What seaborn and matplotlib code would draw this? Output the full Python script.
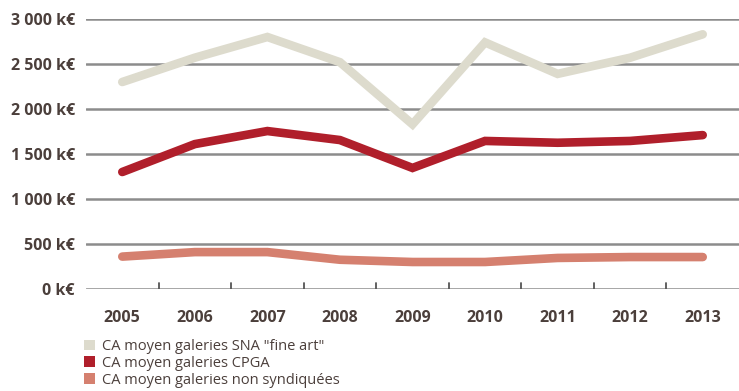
import matplotlib
matplotlib.use("Agg")
import matplotlib.pyplot as plt
from matplotlib.patches import Patch
import seaborn as sns
import pandas as pd

# ───────────── data ─────────────
years = ["2005", "2006", "2007", "2008", "2009", "2010", "2011", "2012", "2013"]
sna_fine_art = [2300, 2570, 2800, 2520, 1830, 2740, 2390, 2570, 2830]
cpga = [1300, 1610, 1755, 1655, 1345, 1645, 1625, 1645, 1710]
non_syndiquees = [360, 410, 410, 325, 300, 300, 345, 355, 355]

series_names = [
    'CA moyen galeries SNA "fine art"',
    "CA moyen galeries CPGA",
    "CA moyen galeries non syndiquées",
]
colors = ["#dddbcd", "#b01f2b", "#d5806f"]
y_ticks = [0, 500, 1000, 1500, 2000, 2500, 3000]

df = pd.DataFrame({
    "year": years * 3,
    "value": sna_fine_art + cpga + non_syndiquees,
    "series": [series_names[0]] * 9 + [series_names[1]] * 9 + [series_names[2]] * 9,
})

sns.set_style("white")
plt.rcParams["font.family"] = ["Open Sans", "DejaVu Sans"]
text_col = "#4b3f3b"

fig = plt.figure(figsize=(7.39, 3.91), dpi=100)
ax = fig.add_axes([86 / 739, 1 - 289 / 391, 653 / 739, 270 / 391])

# gridlines first so the lines sit on top
for v in y_ticks:
    ax.axhline(v, color="#8c8c8c", lw=1.8, zorder=1)

sns.lineplot(
    data=df, x="year", y="value", hue="series",
    palette=dict(zip(series_names, colors)),
    linewidth=6.2, legend=False, ax=ax, zorder=3,
    solid_joinstyle="miter",
)

ax.set_xlim(-0.5, len(years) - 0.5)
ax.set_ylim(0, 3000)
ax.set_yticks(y_ticks)
ax.set_yticklabels([f"{v:,}".replace(",", " ") + " k€" for v in y_ticks])
ax.set_xticks(range(len(years)))
ax.set_xticklabels(years)
ax.tick_params(axis="both", length=0, labelsize=11.5, colors=text_col)
ax.tick_params(axis="y", pad=8)
ax.tick_params(axis="x", pad=15)
for lbl in ax.get_xticklabels() + ax.get_yticklabels():
    lbl.set_fontweight("bold")
ax.set_xlabel("")
ax.set_ylabel("")
for s in ax.spines.values():
    s.set_visible(False)

# small inward ticks between the years
for i in range(len(years) - 1):
    ax.plot([i + 0.5, i + 0.5], [0, 65], color="#555555", lw=1.3, zorder=2)

handles = [Patch(facecolor=c, edgecolor="none") for c in colors]
fig.legend(
    handles, series_names, loc="upper left", bbox_to_anchor=(84 / 739, 1 - 339 / 391),
    frameon=False, fontsize=10.5, handlelength=0.75, handleheight=0.75,
    handletextpad=0.5, labelspacing=0.12, borderaxespad=0, borderpad=0,
    labelcolor=text_col,
)

fig.savefig("out.png", dpi=100)
